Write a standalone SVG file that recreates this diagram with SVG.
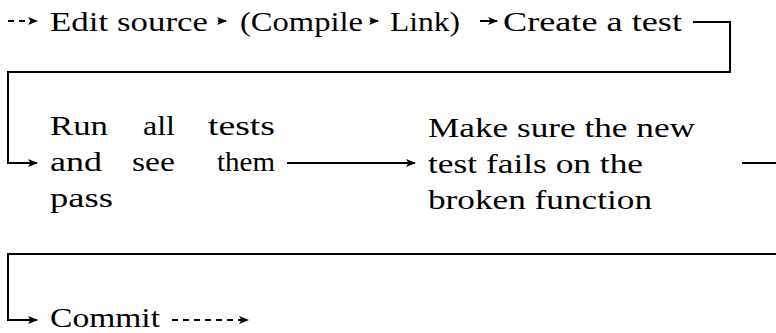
<svg xmlns="http://www.w3.org/2000/svg" width="776" height="333" viewBox="0 0 776 333" font-family="'Liberation Serif', 'Times New Roman', serif">
<style>
text{font-family:'Liberation Serif','Times New Roman',serif;font-size:28px;fill:#000}
.ln{fill:none;stroke:#000;stroke-width:2}
.ds{stroke-dasharray:6,5}
</style>
<defs>
<marker id="ah" viewBox="0 0 10 10" refX="9" refY="5" markerWidth="10" markerHeight="10" markerUnits="userSpaceOnUse" orient="auto">
<path d="M0,1 L10,5 L0,9 L2.5,5 z" fill="#000"/>
</marker>
</defs>
<rect width="776" height="333" fill="#fff"/>
<g id="edit"><text x="50" y="31" textLength="158" lengthAdjust="spacingAndGlyphs">Edit source</text></g>
<g id="compile"><text x="240" y="31" textLength="123" lengthAdjust="spacingAndGlyphs">(Compile</text></g>
<g id="link"><text x="390" y="31" textLength="70" lengthAdjust="spacingAndGlyphs">Link)</text></g>
<g id="create"><text x="503" y="31" textLength="179" lengthAdjust="spacingAndGlyphs">Create a test</text></g>
<g id="runall">
<text x="50" y="135" textLength="58" lengthAdjust="spacingAndGlyphs">Run</text>
<text x="143" y="135" textLength="32" lengthAdjust="spacingAndGlyphs">all</text>
<text x="208" y="135" textLength="67" lengthAdjust="spacingAndGlyphs">tests</text>
<text x="50" y="171" textLength="52" lengthAdjust="spacingAndGlyphs">and</text>
<text x="132" y="171" textLength="43" lengthAdjust="spacingAndGlyphs">see</text>
<text x="217" y="171" textLength="58" lengthAdjust="spacingAndGlyphs">them</text>
<text x="50" y="207" textLength="63" lengthAdjust="spacingAndGlyphs">pass</text>
</g>
<g id="makesure">
<text x="428" y="137" textLength="267" lengthAdjust="spacingAndGlyphs">Make sure the new</text>
<text x="428" y="173" textLength="215" lengthAdjust="spacingAndGlyphs">test fails on the</text>
<text x="428" y="209" textLength="224" lengthAdjust="spacingAndGlyphs">broken function</text>
</g>
<g id="commit"><text x="50" y="327" textLength="110" lengthAdjust="spacingAndGlyphs">Commit</text></g>
<g id="connectors">
<path class="ln ds" d="M8,21 H37" marker-end="url(#ah)"/>
<path class="ln" d="M218,21 H226" marker-end="url(#ah)"/>
<path class="ln" d="M370,21 H378" marker-end="url(#ah)"/>
<path class="ln" d="M480,21 H497" marker-end="url(#ah)"/>
<path class="ln" d="M693,22 H730 V72 H8 V163 H37" marker-end="url(#ah)"/>
<path class="ln" d="M287,163 H415" marker-end="url(#ah)"/>
<path class="ln" d="M742,163 H776"/>
<path class="ln" d="M776,254 H8 V320 H37" marker-end="url(#ah)"/>
<path class="ln ds" d="M172,320 H248" marker-end="url(#ah)"/>
</g>
</svg>
